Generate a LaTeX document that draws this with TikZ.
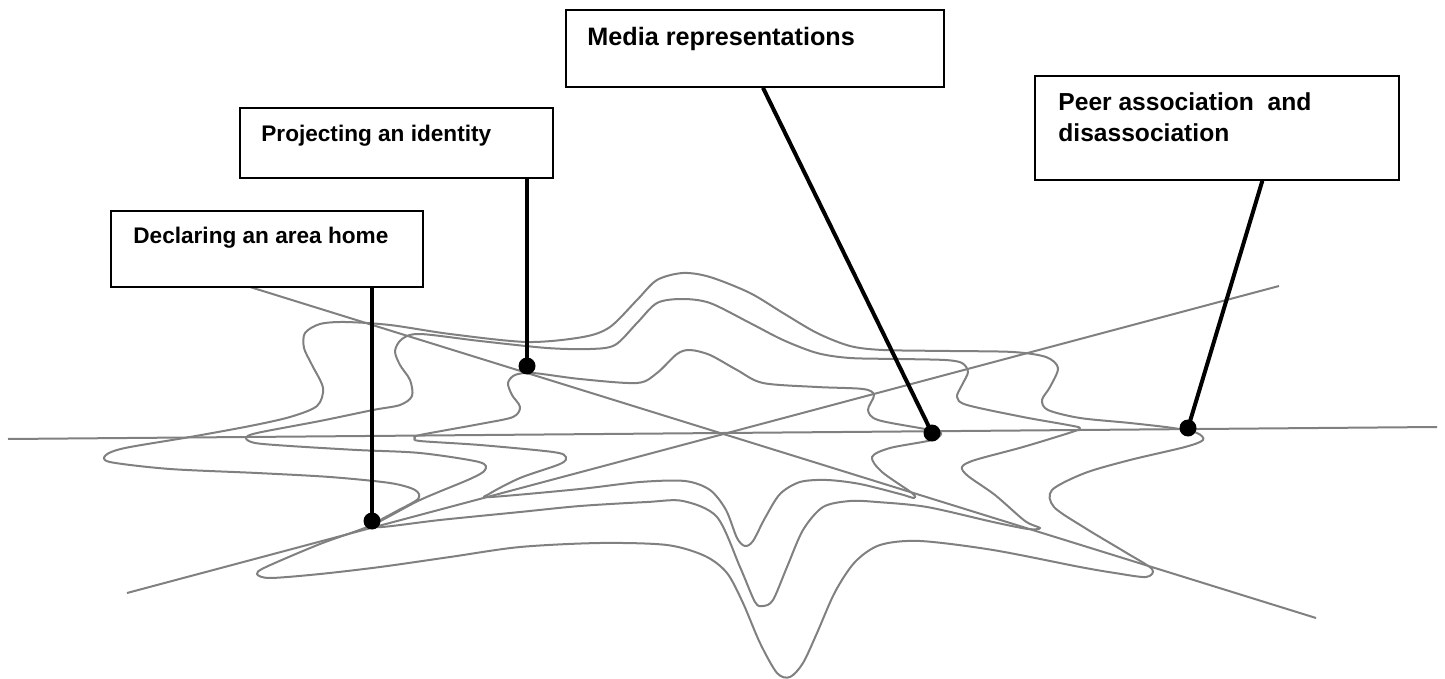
\documentclass[tikz,border=0pt]{standalone}
\usepackage{fontspec}
\setmainfont{Liberation Sans}
\usetikzlibrary{fit,calc}
\definecolor{webgray}{RGB}{128,128,128}
\begin{document}
\begin{tikzpicture}[x=0.5pt,y=-0.5pt,
  web/.style={draw=webgray,line width=1pt,line join=round},
  labelbox/.style={draw=black,line width=0.8pt,inner sep=0pt,fill=white},
  labeltext/.style={anchor=base west,inner sep=0pt,align=left},
  conn/.style={draw=black,line width=2pt},
  dot/.style={circle,fill=black,inner sep=0pt,minimum size=8.5pt}]
\useasboundingbox (0,0) rectangle (1445,679);

% spokes
\coordinate (hl) at (8,439);   \coordinate (hr) at (1437,427);
\coordinate (dl) at (250,287); \coordinate (dr) at (1316,618);
\coordinate (al) at (127,593); \coordinate (ar) at (1279,286);
\draw[web] (hl) -- (hr);
\draw[web] (dl) -- (dr);
\draw[web] (al) -- (ar);

% outer double ring
\draw[web] plot[smooth cycle, tension=0.5] coordinates {
(683,273) (710,277) (750,293) (783,313) (817,333) (850,346) (883,350) (950,351) (1013,352) (1046,357) (1058,368) (1050,387) (1042,400) (1048,410) (1080,418) (1130,423) (1173,428) (1197,433) (1203,440) (1185,447) (1130,460) (1085,473) (1052,490) (1054,507) (1085,528) (1125,552) (1152,569) (1146,577) (1115,573) (1080,567) (993,550) (920,541) (880,545) (855,562) (835,592) (817,633) (803,663) (790,677) (777,673) (760,643) (743,603) (727,573) (705,556) (667,545) (600,543) (520,547) (450,557) (380,567) (320,574) (270,578) (257,574) (266,567) (320,544) (372,525) (420,500) (470,479) (485,470) (479,462) (420,453) (357,450) (290,446) (255,443) (246,438) (257,433) (320,421) (373,410) (400,405) (412,396) (410,380) (400,365) (395,351) (402,339) (420,334) (480,341) (547,348) (590,349) (615,345) (637,323) (657,303) (682,299) (710,303) (750,323) (783,340) (817,353) (850,358) (900,359) (945,360) (962,363) (968,372) (962,385) (957,397) (967,405) (1023,417) (1068,425) (1080,428) (1072,432) (1023,447) (975,460) (962,467) (968,476) (995,495) (1025,521) (1040,528) (1028,529) (993,522) (927,507) (877,502) (850,501) (823,507) (803,530) (787,567) (773,600) (763,606) (755,602) (740,567) (717,517) (683,501) (647,502) (580,506) (520,512) (440,520) (382,527) (374,524) (395,512) (418,499) (415,490) (390,483) (330,477) (257,473) (170,469) (110,462) (106,455) (125,448) (190,437) (250,426) (290,417) (317,406) (323,388) (312,365) (304,348) (305,333) (320,324) (345,322) (390,325) (450,334) (527,342) (583,337) (610,327) (637,300) (657,280)};

% inner ring
\draw[web] plot[smooth cycle, tension=0.5] coordinates {
(690,350) (710,355) (737,370) (763,383) (817,387) (863,389) (874,395) (868,410) (878,420) (925,429) (941,433) (932,440) (890,448) (872,457) (882,472) (912,493) (914,498) (900,494) (860,484) (827,480) (800,482) (780,494) (765,518) (753,541) (745,546) (737,538) (726,510) (710,490) (685,481) (640,482) (580,489) (491,497) (489,494) (520,478) (560,464) (566,457) (553,452) (480,445) (420,441) (415,438) (420,435) (480,424) (513,417) (520,407) (512,395) (508,383) (515,375) (533,373) (580,379) (637,383) (657,373) (677,354)};

% boxes
\node[labelbox, fit={(111,211) (423,287)}] (decl) {};
\node[labelbox, fit={(240,108) (553,178)}] (proj) {};
\node[labelbox, fit={(566,10) (944,87)}] (media) {};
\node[labelbox, fit={(1035,76) (1399,180)}] (peer) {};

\node[labeltext, font=\fontsize{11.3}{14}\selectfont\bfseries] (decltext) at (133,243) {Declaring an area home};
\node[labeltext, font=\fontsize{11.3}{14}\selectfont\bfseries] (projtext) at (261,141.7) {Projecting an identity};
\node[labeltext, font=\fontsize{12.6}{15.5}\selectfont\bfseries] (mediatext) at (587,45.7) {Media representations};
\node[labeltext, font=\fontsize{12.3}{15.5}\selectfont\bfseries] (peertext) at (1058,141.7) {Peer association\ \ and\\disassociation};

% dots
\node[dot] (d1) at (372,521) {};
\node[dot] (d2) at (527,366) {};
\node[dot] (d3) at (932,433) {};
\node[dot] (d4) at (1188,428) {};

% connectors
\draw[conn] (d1 |- decl.south) -- (d1.center);
\draw[conn] (d2 |- proj.south) -- (d2.center);
\draw[conn] ($(media.south west)!0.521!(media.south east)$) -- (d3.center);
\draw[conn] ($(peer.south west)!0.624!(peer.south east)$) -- (d4.center);
\end{tikzpicture}
\end{document}
